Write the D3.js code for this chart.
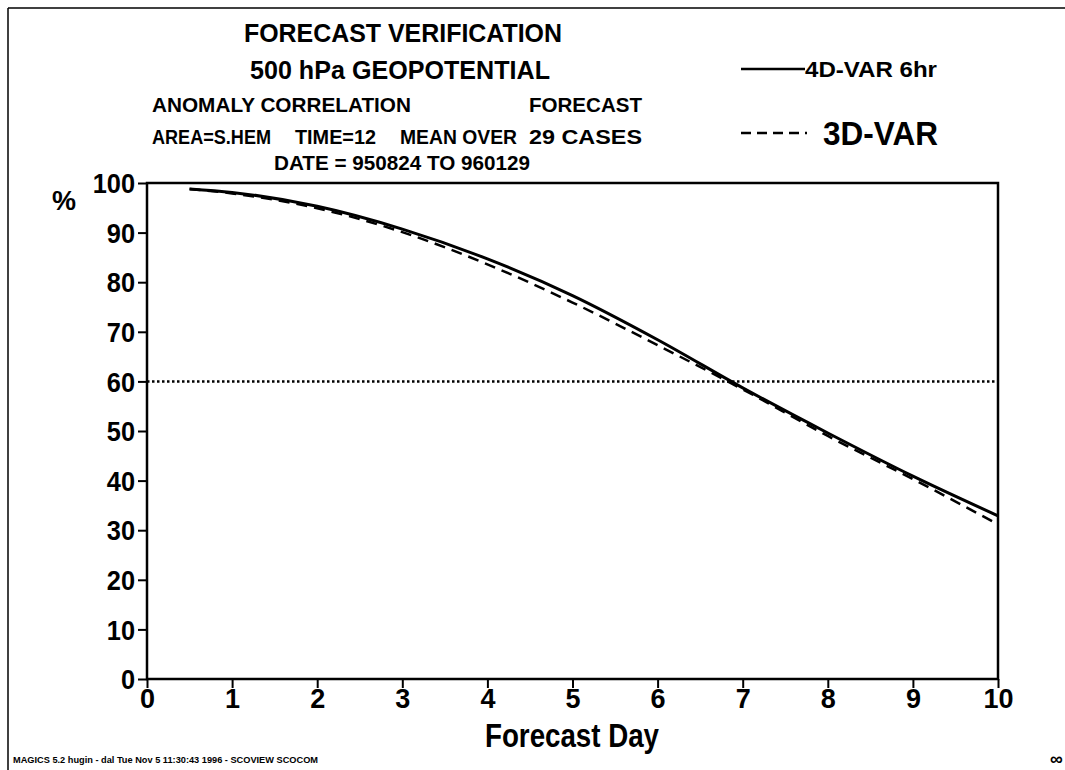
<!DOCTYPE html>
<html><head><meta charset="utf-8">
<script src="https://cdn.jsdelivr.net/npm/d3@7"></script>
<style>body{margin:0;background:#fff}svg{display:block}text{font-family:"Liberation Sans",Arial,sans-serif;font-weight:bold;fill:#000}</style>
</head><body><svg id="c" width="1065" height="770"></svg>
<script>
const days = [0.5, 1, 2, 3, 4, 5, 6, 7, 8, 9, 10];
const var4d = [98.8, 98.1, 95.3, 90.7, 84.7, 77.3, 68.4, 58.7, 49.6, 40.9, 32.9];
const var3d = [98.8, 97.9, 94.9, 90.1, 83.6, 75.9, 67.3, 58.4, 49.0, 40.3, 31.2];
const xTicks = [0,1,2,3,4,5,6,7,8,9,10];
const yTicks = [0,10,20,30,40,50,60,70,80,90,100];
const refLevel = 60;

const svg = d3.select("#c");
const L = 147, R = 998, T = 183, B = 679;
const x = d3.scaleLinear().domain([0,10]).range([L,R]);
const y = d3.scaleLinear().domain([0,100]).range([B,T]);

// page frame
svg.append("line").attr("x1",8).attr("x2",1065).attr("y1",8).attr("y2",8).attr("stroke","#000").attr("stroke-width",1.5);
svg.append("line").attr("x1",8).attr("x2",8).attr("y1",8).attr("y2",770).attr("stroke","#000").attr("stroke-width",1.5);

// text helper: left x, baseline y, size, width
const t = (txt, x0, yy, size, w) => {
  const e = svg.append("text").attr("x",x0).attr("y",yy).attr("font-size",size).text(txt);
  if (w) e.attr("textLength",w).attr("lengthAdjust","spacingAndGlyphs");
  return e;
};
t("FORECAST VERIFICATION", 244, 42, 26, 318);
t("500 hPa GEOPOTENTIAL", 250, 79, 25, 300);
t("ANOMALY CORRELATION", 152, 112, 20, 259);
t("FORECAST", 529, 112, 20, 113);
t("AREA=S.HEM", 152, 144, 20, 119);
t("TIME=12", 295, 144, 20, 81);
t("MEAN OVER", 400, 144, 20, 117);
t("29 CASES", 529, 144, 20, 113);
t("DATE = 950824 TO 960129", 274, 170, 20, 256);

// legend
svg.append("line").attr("x1",741).attr("x2",805).attr("y1",69).attr("y2",69).attr("stroke","#000").attr("stroke-width",2.5);
t("4D-VAR 6hr", 805, 77, 22, 132);
svg.append("line").attr("x1",741).attr("x2",807).attr("y1",133).attr("y2",133).attr("stroke","#000").attr("stroke-width",2.5).attr("stroke-dasharray","10,6");
t("3D-VAR", 823, 145, 33, 115);

// axes
const gy = svg.append("g").attr("transform",`translate(${L},0)`)
  .call(d3.axisLeft(y).tickValues(yTicks).tickSize(9).tickPadding(3).tickFormat(d3.format("d")));
const gx = svg.append("g").attr("transform",`translate(0,${B})`)
  .call(d3.axisBottom(x).tickValues(xTicks).tickSize(9).tickPadding(1).tickFormat(d3.format("d")));
[gy,gx].forEach(g=>{
  g.select(".domain").remove();
  g.selectAll(".tick line").attr("stroke","#000").attr("stroke-width",2);
  g.selectAll(".tick text").attr("font-size",27).attr("font-family","Liberation Sans, Arial, sans-serif").attr("font-weight","bold").attr("fill","#000");
});
gy.selectAll(".tick text").attr("dy","0.36em").attr("transform","scale(0.94,1)").attr("x",function(){return -12/0.94;});
gx.selectAll(".tick text").attr("dy","0.72em");

// plot box
svg.append("rect").attr("x",L).attr("y",T).attr("width",R-L).attr("height",B-T).attr("fill","none").attr("stroke","#000").attr("stroke-width",2.5);

t("%", 52, 210, 27);

// reference line
svg.append("line").attr("x1",x(0)).attr("x2",x(10)).attr("y1",y(refLevel)).attr("y2",y(refLevel))
  .attr("stroke","#000").attr("stroke-width",2.5).attr("stroke-dasharray","2.5,2.5");

const line = d3.line().x((d,i)=>x(days[i])).y(d=>y(d)).curve(d3.curveMonotoneX);
svg.append("path").datum(var4d).attr("d",line).attr("fill","none").attr("stroke","#000").attr("stroke-width",3);
svg.append("path").datum(var3d).attr("d",line).attr("fill","none").attr("stroke","#000").attr("stroke-width",2.5).attr("stroke-dasharray","11,7");

t("Forecast Day", 485, 747, 33, 174);

svg.append("text").attr("x",13).attr("y",763).attr("font-size",8.5).attr("font-weight","normal")
  .attr("textLength",305).attr("lengthAdjust","spacingAndGlyphs")
  .text("MAGICS 5.2 hugin - dal Tue Nov  5 11:30:43 1996  - SCOVIEW SCOCOM");
svg.append("text").attr("x",1050).attr("y",765).attr("font-size",18).attr("font-family","DejaVu Sans").text("∞");
</script></body></html>
